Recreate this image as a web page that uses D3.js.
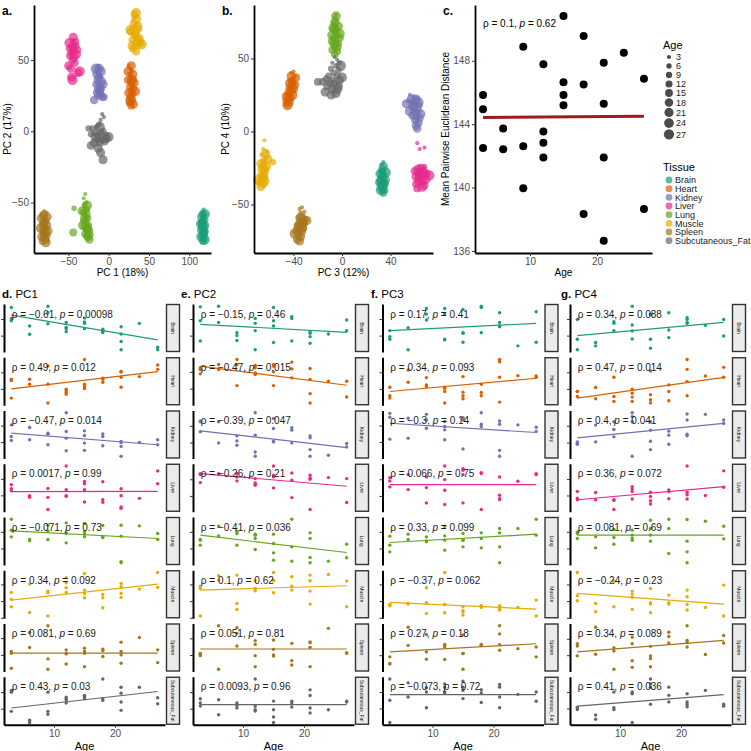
<!DOCTYPE html>
<html><head><meta charset="utf-8">
<script src="https://cdn.jsdelivr.net/npm/d3@7"></script>
<style>body{margin:0;background:#fff;} svg text{font-family:"Liberation Sans",Arial,Helvetica,sans-serif;}</style>
</head><body><svg id="chart" width="751" height="751"></svg>
<script>
// ---------------- DATA ----------------
const tissues = ["Brain","Heart","Kidney","Liver","Lung","Muscle","Spleen","Subcutaneous_Fat"];
const tissueColors = ["#1B9E77","#D95F02","#7570B3","#E7298A","#66A61E","#E6AB02","#A6761D","#666666"];
const sampleAges = [3,3,3,6,6,9,9,9,12,12,12,12,15,15,15,15,18,18,18,21,21,21,21,24,27,27];
const ageLegend = [3,6,9,12,15,18,21,24,27];

// Panel a: PC1 vs PC2 per tissue (same sample order as sampleAges)
const pc1pc2 = [
 [[118,-55],[116,-57],[119,-59],[117,-61],[115,-63],[118,-64],[120,-62],[116,-66],[118,-68],[114,-69],[117,-70],[119,-72],[116,-73],[118,-75],[117,-77],[120,-66],[115,-60],[119,-70],[117,-58],[116,-64],[118,-71],[114,-65],[120,-58],[117,-67],[115,-74],[119,-76]],
 [[25,46],[27,44],[29,42],[26,40],[28,38],[30,36],[27,34],[29,32],[31,30],[26,31],[28,28],[30,26],[27,24],[29,22],[26,20],[28,18],[31,19],[24,36],[32,34],[25,27],[30,40],[28,46],[24,42],[33,28],[27,22],[29,36]],
 [[-13,46],[-11,44],[-14,42],[-12,40],[-10,38],[-15,36],[-13,34],[-11,32],[-14,30],[-12,28],[-9,30],[-16,33],[-10,26],[-13,25],[-8,24],[-6,24],[-18,22],[-12,38],[-15,40],[-9,35],[-11,29],[-14,27],[-7,33],[-12,44],[-16,44],[-10,42]],
 [[-46,62],[-44,64],[-48,60],[-42,58],[-45,57],[-47,55],[-40,60],[-43,61],[-49,58],[-41,63],[-46,59],[-44,56],[-39,57],[-48,53],[-45,50],[-42,48],[-50,46],[-47,44],[-38,41],[-46,38],[-43,52],[-40,54],[-44,66],[-49,62],[-36,42],[-45,36]],
 [[-29,-44],[-31,-47],[-28,-50],[-30,-52],[-43,-54],[-27,-55],[-32,-57],[-29,-59],[-26,-61],[-31,-63],[-28,-64],[-25,-66],[-30,-67],[-27,-69],[-24,-70],[-44,-71],[-29,-72],[-26,-74],[-24,-76],[-33,-56],[-28,-58],[-30,-61],[-26,-68],[-32,-66],[-27,-52],[-25,-73]],
 [[33,80],[30,78],[35,76],[32,73],[36,70],[31,68],[34,66],[38,72],[29,64],[33,62],[36,60],[40,62],[30,58],[34,56],[37,64],[32,82],[28,70],[35,79],[31,75],[33,68],[38,65],[29,60],[36,74],[34,83],[41,61],[27,71]],
 [[-80,-56],[-77,-57],[-83,-58],[-79,-60],[-81,-62],[-77,-63],[-83,-65],[-80,-66],[-78,-68],[-82,-69],[-79,-70],[-81,-72],[-77,-73],[-80,-74],[-78,-76],[-82,-77],[-84,-61],[-76,-60],[-80,-64],[-79,-71],[-83,-74],[-77,-66],[-81,-59],[-78,-78],[-84,-68],[-76,-70]],
 [[-8,12],[-6,10],[-10,8],[-12,5],[-15,3],[-20,2],[-25,2],[-22,-2],[-17,-1],[-13,-3],[-10,-1],[-7,0],[-4,-3],[-14,-6],[-11,-8],[-8,-6],[-5,-7],[-18,-8],[-22,-10],[-13,-12],[-10,-15],[-7,-20],[-3,-5],[0,-4],[-16,-4],[-11,3]]
];
// Panel b: PC3 vs PC4 per tissue
const pc3pc4 = [
 [[34,-21],[33,-23],[35,-25],[32,-26],[34,-27],[33,-29],[35,-30],[32,-31],[34,-32],[33,-34],[35,-35],[32,-36],[34,-37],[33,-39],[35,-40],[34,-42],[31,-29],[36,-33],[33,-28],[32,-33],[34,-24],[35,-36],[31,-35],[33,-38],[36,-28],[32,-40]],
 [[-40,41],[-42,40],[-39,38],[-41,36],[-43,35],[-40,33],[-42,31],[-44,30],[-41,28],[-43,26],[-45,25],[-42,23],[-44,22],[-46,21],[-43,20],[-45,19],[-38,37],[-41,34],[-44,27],[-40,29],[-42,38],[-46,24],[-39,32],[-43,33],[-41,25],[-45,18]],
 [[56,25],[59,24],[62,23],[55,21],[58,20],[61,19],[64,18],[57,17],[60,16],[63,15],[59,14],[62,13],[58,11],[61,10],[64,9],[60,8],[63,6],[61,4],[62,2],[53,19],[57,22],[65,12],[59,18],[61,22],[56,14],[63,20]],
 [[62,-8],[68,-11],[64,-12],[66,-26],[68,-24],[64,-27],[62,-29],[69,-28],[66,-30],[63,-32],[67,-33],[65,-35],[61,-36],[68,-37],[62,-39],[70,-29],[60,-27],[65,-25],[63,-34],[67,-27],[64,-31],[69,-33],[61,-31],[66,-38],[72,-30],[63,-26]],
 [[-5,80],[-6,78],[-4,76],[-7,74],[-5,72],[-8,70],[-6,68],[-4,66],[-7,64],[-5,62],[-3,60],[-6,58],[-8,56],[-4,55],[-6,53],[-9,66],[-2,64],[-5,69],[-7,60],[-3,72],[-6,75],[-4,58],[-8,62],[-5,79],[-2,67],[-7,71]],
 [[-64,-6],[-65,-12],[-62,-14],[-66,-16],[-63,-18],[-65,-20],[-57,-21],[-64,-22],[-66,-24],[-63,-26],[-65,-28],[-67,-30],[-64,-31],[-66,-33],[-68,-35],[-65,-36],[-67,-38],[-62,-24],[-64,-28],[-66,-26],[-63,-15],[-61,-19],[-67,-22],[-65,-32],[-69,-33],[-64,-34]],
 [[-33,-52],[-35,-53],[-31,-55],[-34,-56],[-32,-58],[-36,-59],[-30,-60],[-33,-61],[-35,-62],[-31,-63],[-34,-64],[-37,-65],[-32,-66],[-35,-67],[-38,-68],[-33,-69],[-36,-70],[-34,-72],[-37,-74],[-35,-75],[-29,-61],[-32,-62],[-36,-64],[-34,-59],[-39,-70],[-33,-66]],
 [[-6,51],[-4,49],[-8,47],[-2,47],[-5,45],[-9,43],[-3,42],[-7,40],[-11,38],[-4,38],[-13,36],[-8,35],[-16,34],[-20,34],[-10,33],[-6,33],[-2,35],[-12,31],[-8,29],[-3,31],[-14,27],[-5,26],[-9,25],[0,37],[-1,45],[-4,29]]
];
// Panel c
const distAges = [3,3,3,6,6,9,9,9,12,12,12,12,15,15,15,15,18,18,18,21,21,21,21,24,27,27];
const distValues = [145.84,144.94,142.5,143.72,142.42,148.89,142.6,139.95,147.78,143.53,142.83,141.89,150.83,146.64,145.84,145.19,149.56,146.5,138.33,147.88,145.29,141.89,136.65,148.51,146.87,138.65];
const distFit = [144.42,144.5];
const distRho = 0.1, distP = 0.62;

// Panels d-g: PC scores vs age per tissue (arbitrary score units), fitted line at ages 3 & 27
const pc1Scores = [
 [135,102,95,79,54,139,119,86,90,75,71,62,103,91,87,71,69,63,59,77,55,32,7,87,15,7],
 [79,75,22,79,64,119,64,7,49,44,39,34,139,64,57,51,82,79,70,103,101,55,85,87,122,109],
 [102,67,55,94,57,77,74,42,139,82,62,24,84,70,47,25,75,39,67,52,49,7,37,49,57,42],
 [82,70,64,49,44,71,44,7,139,67,47,49,92,85,67,30,91,37,29,70,49,15,11,41,124,85],
 [138,105,85,77,73,120,103,77,127,97,67,95,125,93,85,100,119,85,83,120,87,10,7,118,95,77],
 [76,33,55,101,16,80,75,5,120,105,76,90,133,83,73,60,70,30,60,73,103,61,93,86,136,91],
 [60,55,10,117,72,137,38,7,65,55,23,53,70,55,15,60,67,63,45,60,88,25,50,102,65,27],
 [100,42,105,15,8,100,42,33,85,80,77,67,90,87,80,85,140,80,75,115,97,70,45,115,83,65]
];
const pc1Fit = [[112,37],[50,102],[77,42],[61,62],[103,80],[53,101],[55,55],[52,102]];
const pc1Rho = [-0.61,0.49,-0.47,0.0017,-0.071,0.34,0.081,0.43];
const pc1P = [0.00098,0.012,0.014,0.99,0.73,0.092,0.69,0.03];

const pc2Scores = [
 [137,95,34,139,90,59,50,35,102,87,65,7,135,95,79,29,102,107,34,57,62,47,27,55,97,65],
 [112,94,107,122,107,137,59,122,112,119,97,92,122,59,117,100,129,82,109,110,35,7,77,72,72,25],
 [114,82,112,49,112,70,55,42,139,22,9,72,122,92,54,52,94,87,49,70,29,9,64,12,47,37],
 [117,114,90,117,114,95,117,107,89,85,82,102,140,74,112,107,119,97,45,112,104,100,9,105,102,30],
 [75,60,77,117,88,102,95,60,93,90,80,47,93,37,15,65,138,55,12,97,23,7,80,12,63,22],
 [88,95,5,126,113,128,43,25,88,81,111,85,136,111,75,113,123,83,95,128,111,80,41,130,110,33],
 [55,48,52,138,7,132,77,115,93,82,48,15,95,67,50,47,85,33,20,87,73,15,89,130,55,57],
 [80,67,58,77,32,67,60,52,140,57,47,43,73,47,25,8,73,67,55,107,90,52,37,47,73,70]
];
const pc2Fit = [[84,60],[117,60],[85,35],[117,79],[90,38],[83,96],[68,68],[62,62]];
const pc2Rho = [-0.15,-0.47,-0.39,-0.26,-0.41,0.1,0.051,0.0093];
const pc2P = [0.46,0.015,0.047,0.21,0.036,0.62,0.81,0.96];

const pc3Scores = [
 [39,47,65,7,74,132,97,115,132,115,39,37,129,57,59,30,139,135,59,119,90,79,77,19,122,30],
 [55,29,22,107,70,84,62,57,55,52,42,7,87,29,20,40,64,39,29,139,132,85,10,90,85,89],
 [137,125,59,122,62,134,92,117,87,57,112,97,124,122,29,117,139,104,97,114,104,25,7,102,82,95],
 [105,95,77,69,114,75,29,107,140,67,99,24,132,114,127,29,117,120,9,52,42,39,107,94,114,117],
 [87,60,40,93,77,85,70,73,88,45,117,75,75,95,55,75,97,52,80,110,97,55,7,110,138,90],
 [40,38,36,41,43,90,45,13,136,40,15,40,33,18,8,21,33,36,31,27,36,23,25,31,53,5],
 [45,25,23,135,80,113,60,38,37,80,75,83,55,55,7,112,83,80,80,65,140,115,82,70,75,45],
 [140,75,7,128,85,100,52,113,125,97,100,115,133,115,80,105,107,68,97,123,115,85,52,93,72,100]
];
const pc3Fit = [[65,87],[42,82],[107,79],[84,84],[68,93],[46,26],[60,85],[92,92]];
const pc3Rho = [0.17,0.34,-0.3,0.066,0.33,-0.37,0.27,-0.073];
const pc3P = [0.41,0.093,0.14,0.75,0.099,0.062,0.18,0.72];

const pc4Scores = [
 [99,39,7,29,19,65,87,92,139,82,40,64,39,115,12,114,44,119,67,104,99,87,90,81,99,49],
 [42,42,27,54,20,12,85,27,49,25,37,12,104,32,7,17,62,42,14,139,109,29,72,89,115,85],
 [47,52,45,52,102,67,89,112,139,112,9,127,29,54,87,112,72,45,84,135,117,75,70,134,117,107],
 [62,42,37,59,37,37,7,35,77,62,70,39,60,34,24,47,62,67,40,60,140,52,39,50,125,75],
 [100,80,95,85,52,107,83,63,80,75,90,105,135,90,72,110,138,110,35,137,72,40,7,132,117,79],
 [136,66,51,43,18,33,108,110,80,71,61,25,88,45,41,15,68,45,41,83,63,23,40,31,98,5],
 [48,85,78,135,53,73,63,7,85,105,33,13,77,40,48,15,120,107,87,140,95,75,89,52,110,87],
 [53,47,53,30,17,52,47,100,100,97,7,95,140,125,63,115,115,90,70,95,70,63,55,105,63,57]
];
const pc4Fit = [[50,90],[22,85],[64,107],[37,77],[90,90],[73,41],[60,95],[57,92]];
const pc4Rho = [0.34,0.47,0.4,0.36,0.081,-0.24,0.34,0.41];
const pc4P = [0.088,0.014,0.041,0.072,0.69,0.23,0.089,0.036];

// ---------------- DRAW ----------------
const FONT = '"Liberation Sans", Arial, Helvetica, sans-serif';
const svg = d3.select("#chart");
const sizeScale = d3.scaleLinear().domain([3,27]).range([1,6]);
const rAge = a => 2.1*Math.sqrt(sizeScale(a));
const fmtNum = v => (v < 0 ? "\u2212" : "") + String(Math.abs(v));

function styleAxis(g, sw){
  g.attr("font-family", FONT);
  g.select(".domain").attr("stroke","#000").attr("stroke-width",sw);
  g.selectAll(".tick line").attr("stroke","#333");
  g.selectAll(".tick text").attr("fill","#4d4d4d").attr("font-size","10px");
}
function panelLabel(x,y,txt,size){
  svg.append("text").attr("x",x).attr("y",y).attr("font-weight","bold").attr("font-size",size).text(txt);
}

function pcaPanel(data, xr, yr, xd, yd, xt, yt, xTitle, yTitle, yTitleX){
  const x = d3.scaleLinear().domain(xd).range(xr);
  const y = d3.scaleLinear().domain(yd).range(yr);
  const g = svg.append("g");
  data.forEach((pts,ti)=>{
    g.selectAll(null).data(pts).enter().append("circle")
      .attr("cx",d=>x(d[0])).attr("cy",d=>y(d[1]))
      .attr("r",(d,i)=>rAge(sampleAges[i]))
      .attr("fill",tissueColors[ti]).attr("fill-opacity",0.7);
  });
  const ax = svg.append("g").attr("transform",`translate(0,${yr[0]})`)
    .call(d3.axisBottom(x).tickValues(xt).tickSize(3).tickSizeOuter(0).tickPadding(2));
  styleAxis(ax,1.8);
  const ay = svg.append("g").attr("transform",`translate(${xr[0]},0)`)
    .call(d3.axisLeft(y).tickValues(yt).tickSize(3).tickSizeOuter(0).tickPadding(2));
  styleAxis(ay,1.8);
  svg.append("text").attr("x",(xr[0]+xr[1])/2).attr("y",276).attr("text-anchor","middle").attr("font-size","10px").text(xTitle);
  svg.append("text").attr("transform",`translate(${yTitleX},${(yr[0]+yr[1])/2}) rotate(-90)`).attr("text-anchor","middle").attr("font-size","10px").text(yTitle);
}

pcaPanel(pc1pc2,[34,211],[253,5],[-92.7,127],[-85.4,88.6],[-50,0,50,100],[-50,0,50],"PC 1 (18%)","PC 2 (17%)",11);
pcaPanel(pc3pc4,[254,433],[253,5],[-72.6,75],[-83.2,86.6],[-40,0,40],[-50,0,50],"PC 3 (12%)","PC 4 (10%)",229);
panelLabel(2,15,"a.","12px");
panelLabel(222,15,"b.","12px");
panelLabel(443,15,"c.","12px");

// Panel c
{
  const x = d3.scaleLinear().domain([1.8,28.2]).range([475,652]);
  const y = d3.scaleLinear().domain([135.87,151.52]).range([253,5]);
  svg.append("g").selectAll("circle").data(distValues).enter().append("circle")
    .attr("cx",(d,i)=>x(distAges[i])).attr("cy",d=>y(d)).attr("r",4).attr("fill","#000");
  svg.append("line").attr("x1",x(3)).attr("x2",x(27)).attr("y1",y(distFit[0])).attr("y2",y(distFit[1]))
    .attr("stroke","#9B1B1E").attr("stroke-width",3);
  const ax = svg.append("g").attr("transform","translate(0,253)")
    .call(d3.axisBottom(x).tickValues([10,20]).tickSize(3).tickSizeOuter(0).tickPadding(2));
  styleAxis(ax,1.8);
  const ay = svg.append("g").attr("transform","translate(475,0)")
    .call(d3.axisLeft(y).tickValues([136,140,144,148]).tickSize(3).tickSizeOuter(0).tickPadding(2));
  styleAxis(ay,1.8);
  const t = svg.append("text").attr("x",483).attr("y",27).attr("font-size","10px");
  t.append("tspan").text("\u03C1 = "+fmtNum(distRho)+", ");
  t.append("tspan").attr("font-style","italic").text("p");
  t.append("tspan").text(" = "+fmtNum(distP));
  svg.append("text").attr("x",563.5).attr("y",276).attr("text-anchor","middle").attr("font-size","10px").text("Age");
  svg.append("text").attr("transform","translate(449,129) rotate(-90)").attr("text-anchor","middle").attr("font-size","10px").text("Mean Pairwise Euclidean Distance");

  // Legends
  svg.append("text").attr("x",663).attr("y",49).attr("font-size","11px").text("Age");
  let yy = 57;
  ageLegend.forEach((a,i)=>{
    if(i>0){ yy += Math.max(9, rAge(ageLegend[i-1]) + rAge(a) + 1.2); }
    svg.append("circle").attr("cx",669).attr("cy",yy).attr("r",rAge(a)).attr("fill","#000").attr("fill-opacity",0.7);
    svg.append("text").attr("x",676).attr("y",yy+3.3).attr("font-size","9px").attr("fill","#1a1a1a").text(a);
  });
  svg.append("text").attr("x",663).attr("y",171).attr("font-size","11px").text("Tissue");
  tissues.forEach((tn,i)=>{
    const cy = 180 + i*8.67;
    svg.append("circle").attr("cx",669).attr("cy",cy).attr("r",3.4).attr("fill",tissueColors[i]).attr("fill-opacity",0.7);
    svg.append("text").attr("x",675).attr("y",cy+3.2).attr("font-size","9px").attr("fill","#1a1a1a").text(tn);
  });
}

// Panels d-g
const pcs = [
  {lab:"d.", name:"PC1", scores:pc1Scores, fit:pc1Fit, rho:pc1Rho, p:pc1P, left:4, titleX:2},
  {lab:"e.", name:"PC2", scores:pc2Scores, fit:pc2Fit, rho:pc2Rho, p:pc2P, left:193, titleX:181},
  {lab:"f.", name:" PC3", scores:pc3Scores, fit:pc3Fit, rho:pc3Rho, p:pc3P, left:382.5, titleX:371},
  {lab:"g.", name:"PC4", scores:pc4Scores, fit:pc4Fit, rho:pc4Rho, p:pc4P, left:570, titleX:561}
];
const plotW = 161, rowTop0 = 304, rowPitch = 53.25, rowH = 48;
pcs.forEach(pc=>{
  const L = pc.left;
  const x = d3.scaleLinear().domain([1.8,28.2]).range([L, L+plotW]);
  const tt = svg.append("text").attr("x",pc.titleX).attr("y",298).attr("font-size","11.5px");
  tt.append("tspan").attr("font-weight","bold").text(pc.lab);
  tt.append("tspan").text(" "+pc.name);
  tissues.forEach((tn,ti)=>{
    const top = rowTop0 + ti*rowPitch;
    const vals = pc.scores[ti];
    const ext = d3.extent(vals.concat(pc.fit[ti]));
    const pad = 0.05*(ext[1]-ext[0]);
    const y = d3.scaleLinear().domain([ext[0]-pad, ext[1]+pad]).range([top+rowH, top]);
    const g = svg.append("g");
    g.selectAll("circle").data(vals).enter().append("circle")
      .attr("cx",(d,i)=>x(sampleAges[i])).attr("cy",d=>y(d)).attr("r",1.7).attr("fill",tissueColors[ti]);
    g.append("line").attr("x1",x(3)).attr("x2",x(27)).attr("y1",y(pc.fit[ti][0])).attr("y2",y(pc.fit[ti][1]))
      .attr("stroke",tissueColors[ti]).attr("stroke-width",1.2);
    const ay = svg.append("g").attr("transform",`translate(${L},0)`)
      .call(d3.axisLeft(y).ticks(4).tickFormat("").tickSize(3).tickSizeOuter(0));
    styleAxis(ay,2);
    const t = svg.append("text").attr("x",x(3)+0.5).attr("y",top+13.5).attr("font-size","10px").attr("fill","#1a1a1a");
    t.append("tspan").text("\u03C1 = "+fmtNum(pc.rho[ti])+", ");
    t.append("tspan").attr("font-style","italic").text("p");
    t.append("tspan").text(" = "+fmtNum(pc.p[ti]));
    // strip
    const sx = L+plotW+1.5;
    svg.append("rect").attr("x",sx).attr("y",top+0.5).attr("width",13).attr("height",rowH-1)
      .attr("fill","#EBEBEB").attr("stroke","#333").attr("stroke-width",1.4);
    svg.append("text").attr("transform",`translate(${sx+6.5-1.8},${top+rowH/2}) rotate(90)`)
      .attr("text-anchor","middle").attr("font-size","5px").attr("fill","#1a1a1a").text(tn);
  });
  const bottom = rowTop0 + 7*rowPitch + rowH;
  const ax = svg.append("g").attr("transform",`translate(0,${bottom})`)
    .call(d3.axisBottom(x).tickValues([10,20]).tickSize(3).tickSizeOuter(0).tickPadding(2));
  styleAxis(ax,2);
  svg.append("text").attr("x",L+plotW/2).attr("y",749.5).attr("text-anchor","middle").attr("font-size","11px").text("Age");
});
</script>
</body></html>
